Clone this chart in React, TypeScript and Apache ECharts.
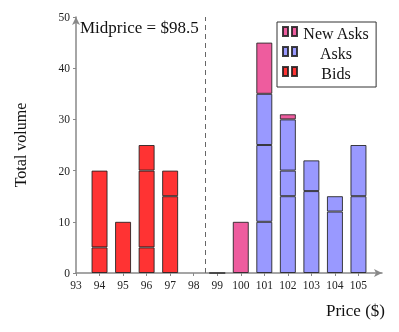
import React, { useEffect, useRef } from "react";
import * as echarts from "echarts";

const prices = [94, 95, 96, 97, 99, 100, 101, 102, 103, 104, 105];
// stacked segments (bottom to top), null = no segment
const bids1 = [5, 10, 5, 15, null, null, null, null, null, null, null];
const bids2 = [15, null, 15, 5, null, null, null, null, null, null, null];
const bids3 = [null, null, 5, null, null, null, null, null, null, null, null];
const asks1 = [null, null, null, null, 0, null, 10, 15, 16, 12, 15];
const asks2 = [null, null, null, null, null, null, 15, 5, 6, 3, 10];
const asks3 = [null, null, null, null, null, null, 10, 10, null, null, null];
const newAsks = [null, null, null, null, null, 10, 10, 1, null, null, null];
const xTicks = [93, 94, 95, 96, 97, 98, 99, 100, 101, 102, 103, 104, 105];
const yTicks = [0, 10, 20, 30, 40, 50];
const midprice = 98.5;

const SERIF = "'Liberation Serif', 'DejaVu Serif', serif";
const BORDER = "rgba(30,30,30,0.85)";

export default function App() {
  const ref = useRef<HTMLDivElement>(null);
  useEffect(() => {
    if (!ref.current) return;
    const chart = echarts.init(ref.current, undefined, { renderer: "svg" });
    // data stored as [volume, price] so that the volume dimension is the stacked one
    const toData = (arr: (number | null)[]) =>
      prices.map((p, i) => [arr[i] === null ? "-" : arr[i], p]);
    const mk = (name: string, arr: (number | null)[], color: string, extra: any = {}) => ({
      type: "bar",
      name,
      stack: "v",
      barWidth: 16,
      encode: { x: 1, y: 0 },
      data: toData(arr),
      itemStyle: { color, borderColor: BORDER, borderWidth: 1 },
      emphasis: { disabled: true },
      ...extra,
    });
    chart.setOption({
      animation: false,
      grid: { left: 76, right: 17, top: 17, bottom: 59, outerBoundsMode: "none", containLabel: false },
      legend: {
        orient: "vertical",
        left: 277,
        top: 22,
        data: ["New Asks", "Asks", "Bids"],
        icon: "path://M0,0H5V9H0ZM9,0H14V9H9Z",
        itemWidth: 14,
        itemHeight: 9,
        itemGap: 4,
        padding: [3, 7, 6, 5],
        borderColor: "#333",
        borderWidth: 1,
        borderRadius: 0,
        selectedMode: false,
        formatter: (n: string) => `{a|${n}}`,
        textStyle: {
          rich: {
            a: { width: 68, align: "center", fontFamily: SERIF, fontSize: 16, color: "#111", padding: [3, 0, 0, 0] },
          },
        },
      },
      xAxis: {
        type: "value",
        min: 93,
        max: 106,
        interval: 1,
        name: "Price ($)",
        nameLocation: "end",
        nameGap: 3,
        nameTextStyle: {
          fontFamily: SERIF,
          fontSize: 17,
          color: "#111",
          align: "right",
          verticalAlign: "top",
          padding: [29, 0, 0, 0],
        },
        axisLine: { show: true, lineStyle: { color: "#888", width: 1.5 }, symbol: ["none", "arrow"], symbolSize: [6, 8] },
        axisTick: { show: true, length: 3, customValues: xTicks, lineStyle: { color: "#888" } },
        axisLabel: {
          customValues: xTicks,
          fontFamily: SERIF,
          fontSize: 11.5,
          color: "#222",
          margin: 6,
        },
        splitLine: { show: false },
      },
      yAxis: {
        type: "value",
        min: 0,
        max: 50,
        interval: 10,
        name: "Total volume",
        nameLocation: "middle",
        nameRotate: 90,
        nameGap: 48,
        nameTextStyle: { fontFamily: SERIF, fontSize: 16, color: "#111" },
        axisLine: { show: true, lineStyle: { color: "#888", width: 1.5 }, symbol: ["none", "arrow"], symbolSize: [6, 8] },
        axisTick: { show: true, length: 3, customValues: yTicks, lineStyle: { color: "#888" } },
        axisLabel: { fontFamily: SERIF, fontSize: 11.5, color: "#222", margin: 6 },
        splitLine: { show: false },
      },
      graphic: [
        {
          type: "text",
          left: 80,
          top: 19,
          style: { text: "Midprice = $98.5", font: `17px ${SERIF}`, fill: "#111" },
        },
      ],
      series: [
        mk("Bids", bids1, "#ff3333"),
        mk("Bids", bids2, "#ff3333"),
        mk("Bids", bids3, "#ff3333"),
        mk("Asks", asks1, "#9999ff"),
        mk("Asks", asks2, "#9999ff"),
        mk("Asks", asks3, "#9999ff"),
        mk("New Asks", newAsks, "#ee5c9e", {
          markLine: {
            silent: true,
            symbol: "none",
            label: { show: false },
            lineStyle: { type: [5, 4], color: "#666", width: 1 },
            data: [{ xAxis: midprice }],
          },
        }),
      ],
    });
    return () => chart.dispose();
  }, []);
  return (
    <div
      ref={ref}
      style={{ position: "fixed", left: 0, top: 0, width: 399, height: 332 }}
    />
  );
}
